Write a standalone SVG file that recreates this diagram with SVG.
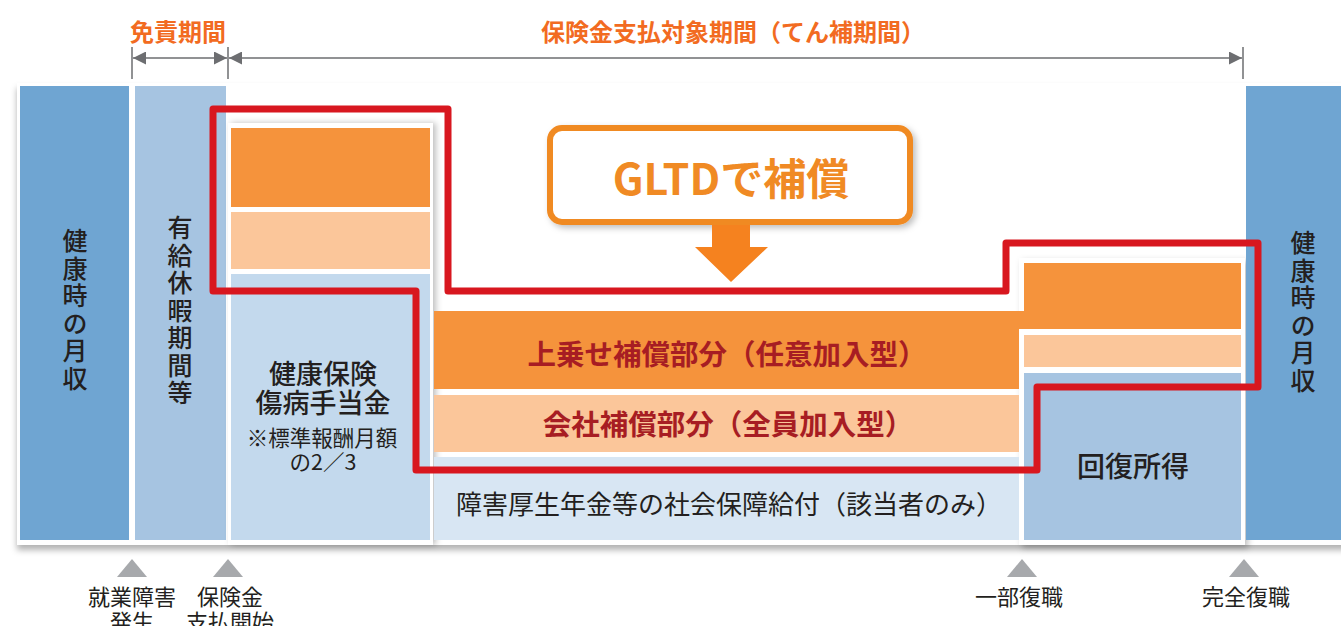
<svg xmlns="http://www.w3.org/2000/svg" width="1341" height="626" viewBox="0 0 1341 626">
<defs>
<style>
text{font-family:"Noto Sans CJK JP","Noto Sans",sans-serif;fill:#231f20}
.hd{font-size:24px;font-weight:bold;fill:#f26b21;text-anchor:middle}
.vt{font-size:25px;font-weight:500;writing-mode:vertical-rl;letter-spacing:2.5px}
.cb{font-size:28.5px;font-weight:bold;fill:#a71d23;text-anchor:middle}
.md{font-size:27px;font-weight:500;text-anchor:middle}
.lb{font-size:22px;text-anchor:middle}
.dim{stroke:#6d6e71;stroke-width:1.5;fill:none}
.tri{fill:#a7a9ac}
.dblue{fill:#6fa5d2}
.mblue{fill:#a6c4e1}
.lblue{fill:#c3d9ed}
.pblue{fill:#d8e6f3}
.or{fill:#f5933c}
.lor{fill:#fbc69a}
</style>
<filter id="sh" x="-5%" y="-5%" width="110%" height="115%"><feDropShadow dx="0" dy="5" stdDeviation="3" flood-color="#000" flood-opacity="0.3"/></filter>
<filter id="sh2" x="-10%" y="-10%" width="125%" height="120%"><feDropShadow dx="3" dy="0" stdDeviation="3" flood-color="#000" flood-opacity="0.25"/></filter>
<filter id="sh3" x="-10%" y="-10%" width="125%" height="130%"><feDropShadow dx="3" dy="3" stdDeviation="3" flood-color="#000" flood-opacity="0.25"/></filter>
<marker id="ah" viewBox="0 0 13 13" refX="13" refY="6.5" markerWidth="13" markerHeight="13" orient="auto-start-reverse" markerUnits="userSpaceOnUse"><path d="M0,0 L13,6.5 L0,13 Z" fill="#6d6e71"/></marker>
</defs>
<rect width="1341" height="626" fill="#fff"/>

<g id="header">
<text class="hd" x="178" y="41">免責期間</text>
<text class="hd" x="733" y="41">保険金支払対象期間（てん補期間）</text>
</g>

<g id="connectors">
<line class="dim" x1="132" y1="47" x2="132" y2="79"/>
<line class="dim" x1="228" y1="47" x2="228" y2="79"/>
<line class="dim" x1="1243" y1="47" x2="1243" y2="79"/>
<line class="dim" x1="133" y1="58" x2="227" y2="58" marker-start="url(#ah)" marker-end="url(#ah)"/>
<line class="dim" x1="229" y1="58" x2="1242" y2="58" marker-start="url(#ah)" marker-end="url(#ah)"/>
</g>

<g id="card">
<rect x="17" y="83" width="1340" height="462" fill="#fff" filter="url(#sh)"/>
</g>

<g id="col1">
<rect class="dblue" x="20" y="86" width="109" height="454"/>
<text class="vt" x="75" y="228">健康時の月収</text>
</g>

<g id="col2">
<rect class="mblue" x="135" y="86" width="91" height="454"/>
<text class="vt" x="180" y="215">有給休暇期間等</text>
</g>

<g id="col3">
<rect x="228" y="123" width="205" height="422" fill="#fff" filter="url(#sh2)"/>
<rect class="or" x="231" y="128" width="199" height="79"/>
<rect class="lor" x="231" y="212" width="199" height="57"/>
<rect class="lblue" x="231" y="274" width="199" height="266"/>
<text class="md" x="323" y="384">健康保険</text>
<text class="md" x="323" y="413">傷病手当金</text>
<text class="lb" x="322" y="446" style="font-size:21.5px">※標準報酬月額</text>
<text class="lb" x="323" y="470" style="font-size:21.5px">の2／3</text>
</g>

<g id="col5">
<rect x="1019" y="258" width="226" height="287" fill="#fff" filter="url(#sh3)"/>
<rect class="or" x="1024" y="263" width="217" height="66"/>
<rect class="lor" x="1024" y="335" width="217" height="32"/>
<rect class="mblue" x="1024" y="373" width="217" height="167"/>
<text class="md" x="1133" y="477" style="font-size:28px">回復所得</text>
</g>

<g id="col4">
<path class="or" d="M434,311 H1026 V329 H1019 V389 H434 Z"/>
<rect class="lor" x="434" y="395" width="585" height="57"/>
<rect class="pblue" x="434" y="457" width="585" height="83"/>
<text class="cb" x="727" y="365">上乗せ補償部分（任意加入型）</text>
<text class="cb" x="728" y="435">会社補償部分（全員加入型）</text>
<text x="729" y="514" style="font-size:26px;text-anchor:middle">障害厚生年金等の社会保障給付（該当者のみ）</text>
</g>

<g id="col6">
<rect class="dblue" x="1246" y="86" width="100" height="454"/>
<text class="vt" x="1303" y="230">健康時の月収</text>
</g>

<g id="gltd-outline">
<path d="M213,109 H448 V291 H1006 V243 H1258 V387 H1037 V470 H416 V291 H213 Z" fill="none" stroke="#d8171f" stroke-width="7" stroke-linejoin="round"/>
</g>

<g id="gltd-box">
<rect x="550" y="128" width="360" height="94" rx="12" fill="#fff" stroke="#f08a24" stroke-width="6" filter="url(#sh3)"/>
<text x="731" y="195" style="font-size:43px;font-weight:bold;fill:#f08a24;text-anchor:middle">GLTDで補償</text>
<path d="M712,225 H750 V247 H768 L731,282 L695,247 H712 Z" fill="#f5821f"/>
</g>

<g id="markers">
<polygon class="tri" points="132,559 147,577 117,577"/>
<polygon class="tri" points="228,559 243,577 213,577"/>
<polygon class="tri" points="1022,559 1037,577 1007,577"/>
<polygon class="tri" points="1244,559 1259,577 1229,577"/>
<text class="lb" x="132" y="605">就業障害</text>
<text class="lb" x="132" y="630">発生</text>
<text class="lb" x="230" y="605">保険金</text>
<text class="lb" x="230" y="630">支払開始</text>
<text class="lb" x="1019" y="605">一部復職</text>
<text class="lb" x="1246" y="605">完全復職</text>
</g>
</svg>
